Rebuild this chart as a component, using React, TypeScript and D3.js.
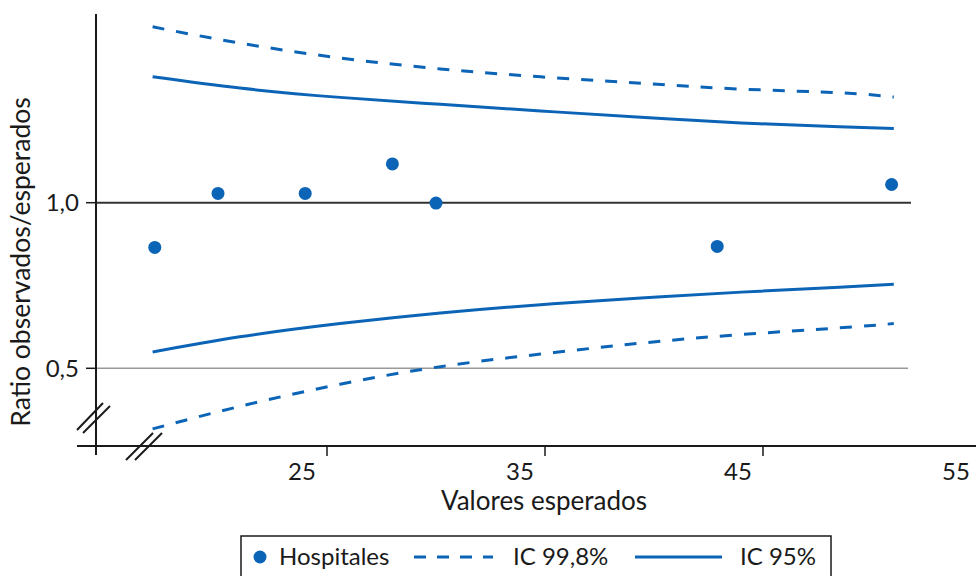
import React from "react";
import * as d3 from "d3";

const hospX = [17.1, 20, 24, 28, 30, 42.9, 50.9];
const hospY = [0.865, 1.028, 1.028, 1.117, 0.999, 0.868, 1.055];

const ciX = [17, 21, 25.6, 30.2, 34.8, 39.4, 44, 48.5, 51];
const upper998 = [1.531, 1.482, 1.437, 1.404, 1.38, 1.361, 1.343, 1.332, 1.319];
const upper95 = [1.38, 1.346, 1.318, 1.297, 1.277, 1.258, 1.241, 1.229, 1.224];
const lower95 = [0.549, 0.595, 0.635, 0.667, 0.692, 0.712, 0.73, 0.745, 0.754];
const lower998 = [0.317, 0.385, 0.452, 0.505, 0.543, 0.576, 0.602, 0.622, 0.635];

const xTicks = [25, 35, 45, 55];
const yTicks = [0.5, 1.0];
const yTickLabels = ["0,5", "1,0"];

const legendLabels = ["Hospitales", "IC 99,8%", "IC 95%"];
const xTitle = "Valores esperados";
const yTitle = "Ratio observados/esperados";

const BLUE = "#0b64b6";
const FONT = "Lato, 'Open Sans', sans-serif";

export default function App() {
  const W = 976, H = 576;
  const x = d3.scaleLinear().domain([25, 45]).range([327, 763]);
  const y = d3.scaleLinear().domain([0.5, 1.0]).range([368.3, 202.7]);
  const axisX = 96;
  const axisY = 446;
  const line = d3
    .line<[number, number]>()
    .x((d) => x(d[0]))
    .y((d) => y(d[1]))
    .curve(d3.curveNatural);
  const mk = (ys: number[]) => ciX.map((v, i) => [v, ys[i]] as [number, number]);

  return (
    <svg width={W} height={H} style={{ position: "absolute", left: 0, top: 0 }} fontFamily={FONT}>
      <rect width={W} height={H} fill="#fff" />
      {/* reference lines */}
      <line x1={axisX} x2={911} y1={y(1)} y2={y(1)} stroke="#333" strokeWidth={2} />
      <line x1={axisX} x2={908} y1={y(0.5)} y2={y(0.5)} stroke="#999" strokeWidth={1.5} />

      {/* axes */}
      <line x1={axisX} x2={axisX} y1={14} y2={455} stroke="#1a1a1a" strokeWidth={2} />
      <line x1={77} x2={W} y1={axisY} y2={axisY} stroke="#1a1a1a" strokeWidth={2} />

      {/* y ticks */}
      {yTicks.map((t, i) => (
        <g key={t}>
          <line x1={axisX - 10} x2={axisX} y1={y(t)} y2={y(t)} stroke="#1a1a1a" strokeWidth={1.5} />
          <text x={79} y={y(t)} dy="0.35em" textAnchor="end" fontSize={24} fill="#1a1a1a">
            {yTickLabels[i]}
          </text>
        </g>
      ))}

      {/* x ticks */}
      {xTicks.map((t) => (
        <g key={t}>
          <line x1={x(t)} x2={x(t)} y1={axisY} y2={axisY + 10} stroke="#1a1a1a" strokeWidth={1.5} />
          <text x={x(t) - 25} y={480} textAnchor="middle" fontSize={24} fill="#1a1a1a">
            {t}
          </text>
        </g>
      ))}

      {/* break marks */}
      <g stroke="#1a1a1a" strokeWidth={2}>
        <line x1={77} y1={430} x2={103} y2={403} />
        <line x1={83} y1={433} x2={110} y2={406} />
        <line x1={126} y1={460} x2={153} y2={433} />
        <line x1={135} y1={460} x2={162} y2={433} />
      </g>

      {/* titles */}
      <text x={544} y={510} textAnchor="middle" fontSize={26} fill="#1a1a1a">
        {xTitle}
      </text>
      <text
        transform={`translate(30, 262) rotate(-90)`}
        textAnchor="middle"
        fontSize={26.5}
        fill="#1a1a1a"
      >
        {yTitle}
      </text>

      {/* CI lines */}
      <path d={line(mk(upper998)) || ""} fill="none" stroke={BLUE} strokeWidth={3} strokeDasharray="12,12" />
      <path d={line(mk(lower998)) || ""} fill="none" stroke={BLUE} strokeWidth={3} strokeDasharray="12,12" />
      <path d={line(mk(upper95)) || ""} fill="none" stroke={BLUE} strokeWidth={3} />
      <path d={line(mk(lower95)) || ""} fill="none" stroke={BLUE} strokeWidth={3} />

      {/* points */}
      {hospX.map((v, i) => (
        <circle key={i} cx={x(v)} cy={y(hospY[i])} r={6.5} fill={BLUE} />
      ))}

      {/* legend */}
      <rect x={241} y={536} width={590} height={60} fill="none" stroke="#1a1a1a" strokeWidth={1.5} />
      <circle cx={260} cy={557} r={6.5} fill={BLUE} />
      <text x={279} y={557} dy="0.35em" fontSize={24} fill="#1a1a1a">
        {legendLabels[0]}
      </text>
      <line x1={414} x2={493} y1={557} y2={557} stroke={BLUE} strokeWidth={3} strokeDasharray="12,11" />
      <text x={513} y={557} dy="0.35em" fontSize={24} fill="#1a1a1a">
        {legendLabels[1]}
      </text>
      <line x1={635} x2={722} y1={557} y2={557} stroke={BLUE} strokeWidth={3} />
      <text x={740} y={557} dy="0.35em" fontSize={24} fill="#1a1a1a">
        {legendLabels[2]}
      </text>
    </svg>
  );
}
